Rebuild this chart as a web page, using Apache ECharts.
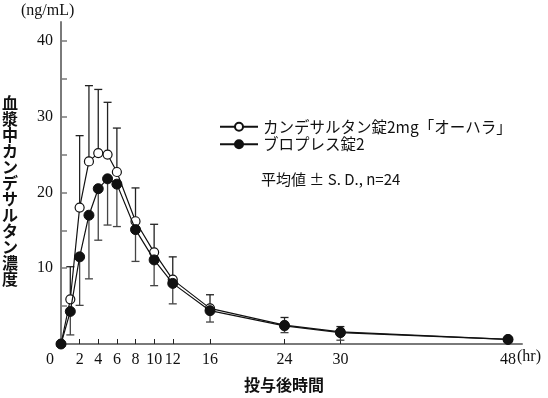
<!DOCTYPE html>
<html>
<head>
<meta charset="utf-8">
<script src="https://cdn.jsdelivr.net/npm/echarts@6/dist/echarts.min.js"></script>
<style>
  html, body { margin: 0; padding: 0; background: #fff; }
  #main { width: 548px; height: 398px; }
</style>
</head>
<body>
<div id="main"></div>
<script>
// 投与後時間 (hr)
const hours = [0, 1, 2, 3, 4, 5, 6, 8, 10, 12, 16, 24, 30, 48];
// カンデサルタン錠2mg「オーハラ」 平均値 と S.D.(上側)
const ohara = [0, 5.9, 18.0, 24.1, 25.2, 25.0, 22.7, 16.2, 12.1, 8.5, 4.7, 2.5, 1.6, 0.6];
const oharaSD = [0, 4.3, 9.5, 10.0, 8.4, 6.9, 5.8, 4.4, 3.7, 3.0, 1.8, 1.0, 0.7, 0.3];
// ブロプレス錠2 平均値 と S.D.(下側)
const blopress = [0, 4.3, 11.5, 17.0, 20.5, 21.8, 21.1, 15.1, 11.1, 8.0, 4.4, 2.4, 1.5, 0.6];
const blopressSD = [0, 3.1, 6.4, 8.4, 6.8, 6.1, 5.6, 4.2, 3.4, 2.7, 1.5, 0.9, 1.0, 0.3];
// 目盛
const xTicks = [0, 2, 4, 6, 8, 10, 12, 16, 24, 30, 48];
const yLabels = [10, 20, 30, 40];
const yTicks = [5, 10, 15, 20, 25, 30, 35, 40];

const seriesNames = ['カンデサルタン錠2mg「オーハラ」', 'ブロプレス錠2'];

let myChart = echarts.init(document.getElementById('main'));

const serif = 'Liberation Serif';
const jp = 'Noto Sans CJK JP';

// エラーバー（dir: 1 上向き, -1 下向き）
function errorBar(dir, color) {
    return function (params, api) {
        const x = api.value(0), y = api.value(1), sd = api.value(2);
        if (!sd) return null;
        const p0 = api.coord([x, y]);
        const p1 = api.coord([x, y + dir * sd]);
        const style = { stroke: color, lineWidth: 1.3 };
        return {
            type: 'group',
            children: [
                { type: 'line', shape: { x1: p0[0], y1: p0[1], x2: p1[0], y2: p1[1] }, style: style },
                { type: 'line', shape: { x1: p1[0] - 4, y1: p1[1], x2: p1[0] + 4, y2: p1[1] }, style: style }
            ]
        };
    };
}

const pairs = (ys) => hours.map((h, i) => [h, ys[i]]);
const triples = (ys, sd) => hours.map((h, i) => [h, ys[i], sd[i]]);

option = {
    backgroundColor: '#fff',
    animation: false,
    grid: { left: 61, top: 22, width: 461, height: 322 },
    legend: {
        left: 214,
        top: 114,
        orient: 'vertical',
        itemWidth: 38,
        itemHeight: 10,
        itemGap: 2,
        data: seriesNames,
        textStyle: { fontFamily: jp, fontSize: 15.5, color: '#111' }
    },
    xAxis: {
        type: 'value',
        min: 0,
        max: 49.5,
        splitLine: { show: false },
        axisLine: { lineStyle: { color: '#7a7a7a', width: 2 } },
        axisTick: {
            inside: true, length: 5, customValues: xTicks,
            lineStyle: { color: '#222', width: 1 }
        },
        axisLabel: {
            customValues: xTicks,
            margin: 8,
            fontFamily: serif,
            fontSize: 16,
            color: '#111',
            formatter: v => v === 0 ? '{o|0}' : String(v),
            rich: { o: { fontFamily: serif, fontSize: 16, color: '#111', padding: [0, 22, 0, 0] } }
        }
    },
    yAxis: {
        type: 'value',
        min: 0,
        max: 42.5,
        splitLine: { show: false },
        axisLine: { show: true, lineStyle: { color: '#7a7a7a', width: 2 } },
        axisTick: {
            show: true, inside: true, length: 6, customValues: yTicks,
            lineStyle: { color: '#7a7a7a', width: 1.5 }
        },
        axisLabel: {
            customValues: yLabels,
            margin: 8,
            fontFamily: serif,
            fontSize: 16,
            color: '#111'
        }
    },
    graphic: [
        { type: 'text', left: 21, top: 3, style: { text: '(ng/mL)', font: '16px "Liberation Serif"', fill: '#111' } },
        { type: 'text', left: 517, top: 349, style: { text: '(hr)', font: '16px "Liberation Serif"', fill: '#111' } },
        {
            type: 'text', left: 2, top: 95,
            style: {
                text: '血漿中カンデサルタン濃度'.split('').join('\n'),
                font: 'bold 16px "Noto Sans CJK JP"', lineHeight: 16, fill: '#111', align: 'left'
            }
        },
        { type: 'text', left: 244, top: 377, style: { text: '投与後時間', font: 'bold 16px "Noto Sans CJK JP"', fill: '#111' } },
        { type: 'text', left: 261, top: 172, style: { text: '平均値 ± S. D., n=24', font: '15px "Noto Sans CJK JP"', fill: '#111' } }
    ],
    series: [
        {
            type: 'custom',
            renderItem: errorBar(1, '#222'),
            data: triples(ohara, oharaSD),
            z: 1,
            silent: true
        },
        {
            type: 'custom',
            renderItem: errorBar(-1, '#444'),
            data: triples(blopress, blopressSD),
            z: 1,
            silent: true
        },
        {
            name: seriesNames[0],
            type: 'line',
            data: pairs(ohara),
            symbol: 'circle',
            symbolSize: 9,
            showAllSymbol: true,
            lineStyle: { color: '#111', width: 1.2 },
            itemStyle: { color: '#fff', borderColor: '#111', borderWidth: 1.2 },
            z: 3
        },
        {
            name: seriesNames[1],
            type: 'line',
            data: pairs(blopress),
            symbol: 'circle',
            symbolSize: 10,
            showAllSymbol: true,
            lineStyle: { color: '#111', width: 1.2 },
            itemStyle: { color: '#111', borderColor: '#111', borderWidth: 1 },
            z: 4
        }
    ]
};

myChart.setOption(option);
</script>
</body>
</html>
